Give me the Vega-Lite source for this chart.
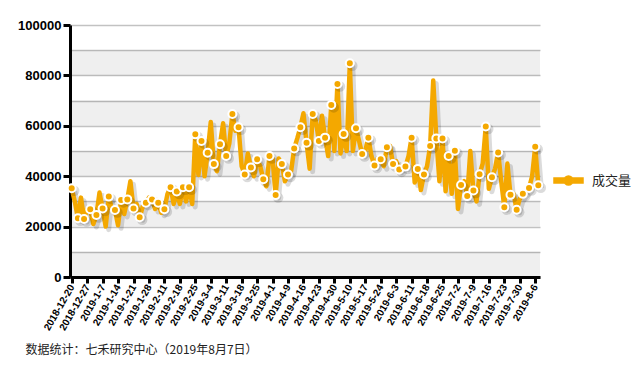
{
"$schema": "https://vega.github.io/schema/vega-lite/v6.json",
"width": 470, "height": 252,
"autosize": "none",
"padding": {"left": 70, "top": 25, "right": 99, "bottom": 90},
"background": "white",
"config": {"view": {"stroke": null}, "font": "Liberation Sans",
 "axisX": {"tickCount": 31,
    "labelExpr": "['2018-12-20','2018-12-27','2019-1-7','2019-1-14','2019-1-21','2019-1-28','2019-2-11','2019-2-18','2019-2-25','2019-3-4','2019-3-11','2019-3-18','2019-3-25','2019-4-1','2019-4-9','2019-4-16','2019-4-23','2019-4-30','2019-5-10','2019-5-17','2019-5-24','2019-6-3','2019-6-11','2019-6-18','2019-6-25','2019-7-2','2019-7-9','2019-7-16','2019-7-23','2019-7-30','2019-8-6'][round(datum.value/5)]",
    "labelAngle": -60, "labelAlign": "right", "labelBaseline": "middle", "labelFont": "Liberation Sans", "labelFontSize": 10, "labelFontWeight": "bold", "labelColor": "black",
    "labelOverlap": false, "labelBound": false, "labelFlush": false, "labelPadding": 2,
    "grid": false, "domainColor": "black", "domainWidth": 3, "tickColor": "black", "tickWidth": 3, "tickSize": 6, "title": null}},
"title": {"text": "数据统计：七禾研究中心（2019年8月7日）", "orient": "bottom", "anchor": "start", "frame": "bounds", "font": "Noto Sans CJK SC", "fontSize": 12, "fontWeight": "normal", "color": "#222222", "offset": 13, "dx": 8},
"datasets": {
"bands": [{"lo":0,"hi":10000},{"lo":20000,"hi":30000},{"lo":40000,"hi":50000},{"lo":60000,"hi":70000},{"lo":80000,"hi":90000}],
"vol": [
{"i":0,"d":"2018-12-20","v":35200},{"i":1,"d":"2018-12-21","v":30000},{"i":2,"d":"2018-12-24","v":23300},{"i":3,"d":"2018-12-25","v":31500},{"i":4,"d":"2018-12-26","v":23000},{"i":5,"d":"2018-12-27","v":27000},{"i":6,"d":"2018-12-28","v":26900},{"i":7,"d":"2019-1-2","v":21000},{"i":8,"d":"2019-1-3","v":24600},{"i":9,"d":"2019-1-4","v":33500},
{"i":10,"d":"2019-1-7","v":27200},{"i":11,"d":"2019-1-8","v":20000},{"i":12,"d":"2019-1-9","v":31900},{"i":13,"d":"2019-1-10","v":27000},{"i":14,"d":"2019-1-11","v":26600},{"i":15,"d":"2019-1-14","v":20500},{"i":16,"d":"2019-1-15","v":30600},{"i":17,"d":"2019-1-16","v":25000},{"i":18,"d":"2019-1-17","v":30800},{"i":19,"d":"2019-1-18","v":38000},
{"i":20,"d":"2019-1-21","v":27200},{"i":21,"d":"2019-1-22","v":29000},{"i":22,"d":"2019-1-23","v":23700},{"i":23,"d":"2019-1-24","v":28000},{"i":24,"d":"2019-1-25","v":29500},{"i":25,"d":"2019-1-28","v":31500},{"i":26,"d":"2019-1-29","v":30800},{"i":27,"d":"2019-1-30","v":27000},{"i":28,"d":"2019-1-31","v":29500},{"i":29,"d":"2019-2-1","v":25500},
{"i":30,"d":"2019-2-11","v":26900},{"i":31,"d":"2019-2-12","v":33000},{"i":32,"d":"2019-2-13","v":35600},{"i":33,"d":"2019-2-14","v":29000},{"i":34,"d":"2019-2-15","v":33900},{"i":35,"d":"2019-2-18","v":29000},{"i":36,"d":"2019-2-19","v":35600},{"i":37,"d":"2019-2-20","v":30000},{"i":38,"d":"2019-2-21","v":35600},{"i":39,"d":"2019-2-22","v":29000},
{"i":40,"d":"2019-2-25","v":56600},{"i":41,"d":"2019-2-26","v":40500},{"i":42,"d":"2019-2-27","v":54000},{"i":43,"d":"2019-2-28","v":40000},{"i":44,"d":"2019-3-1","v":49300},{"i":45,"d":"2019-3-4","v":61500},{"i":46,"d":"2019-3-5","v":44800},{"i":47,"d":"2019-3-6","v":42000},{"i":48,"d":"2019-3-7","v":52700},{"i":49,"d":"2019-3-8","v":61000},
{"i":50,"d":"2019-3-11","v":48000},{"i":51,"d":"2019-3-12","v":53000},{"i":52,"d":"2019-3-13","v":64700},{"i":53,"d":"2019-3-14","v":58000},{"i":54,"d":"2019-3-15","v":59400},{"i":55,"d":"2019-3-18","v":44000},{"i":56,"d":"2019-3-19","v":40700},{"i":57,"d":"2019-3-20","v":49000},{"i":58,"d":"2019-3-21","v":43500},{"i":59,"d":"2019-3-22","v":40000},
{"i":60,"d":"2019-3-25","v":46700},{"i":61,"d":"2019-3-26","v":44000},{"i":62,"d":"2019-3-27","v":38800},{"i":63,"d":"2019-3-28","v":36000},{"i":64,"d":"2019-3-29","v":48000},{"i":65,"d":"2019-4-1","v":47000},{"i":66,"d":"2019-4-2","v":32500},{"i":67,"d":"2019-4-3","v":47000},{"i":68,"d":"2019-4-4","v":44800},{"i":69,"d":"2019-4-8","v":38000},
{"i":70,"d":"2019-4-9","v":40700},{"i":71,"d":"2019-4-10","v":42000},{"i":72,"d":"2019-4-11","v":51000},{"i":73,"d":"2019-4-12","v":55000},{"i":74,"d":"2019-4-15","v":59400},{"i":75,"d":"2019-4-16","v":65000},{"i":76,"d":"2019-4-17","v":53300},{"i":77,"d":"2019-4-18","v":43000},{"i":78,"d":"2019-4-19","v":64700},{"i":79,"d":"2019-4-22","v":62000},
{"i":80,"d":"2019-4-23","v":54000},{"i":81,"d":"2019-4-24","v":64000},{"i":82,"d":"2019-4-25","v":55300},{"i":83,"d":"2019-4-26","v":48000},{"i":84,"d":"2019-4-29","v":68300},{"i":85,"d":"2019-4-30","v":50000},{"i":86,"d":"2019-5-6","v":76600},{"i":87,"d":"2019-5-7","v":49000},{"i":88,"d":"2019-5-8","v":56700},{"i":89,"d":"2019-5-9","v":50000},
{"i":90,"d":"2019-5-10","v":84800},{"i":91,"d":"2019-5-13","v":50000},{"i":92,"d":"2019-5-14","v":59000},{"i":93,"d":"2019-5-15","v":54000},{"i":94,"d":"2019-5-16","v":48800},{"i":95,"d":"2019-5-17","v":50000},{"i":96,"d":"2019-5-20","v":55300},{"i":97,"d":"2019-5-21","v":48000},{"i":98,"d":"2019-5-22","v":44200},{"i":99,"d":"2019-5-23","v":47000},
{"i":100,"d":"2019-5-24","v":46700},{"i":101,"d":"2019-5-27","v":44000},{"i":102,"d":"2019-5-28","v":51500},{"i":103,"d":"2019-5-29","v":52000},{"i":104,"d":"2019-5-30","v":44800},{"i":105,"d":"2019-6-3","v":46000},{"i":106,"d":"2019-6-4","v":42700},{"i":107,"d":"2019-6-5","v":44000},{"i":108,"d":"2019-6-6","v":43800},{"i":109,"d":"2019-6-10","v":48000},
{"i":110,"d":"2019-6-11","v":55300},{"i":111,"d":"2019-6-12","v":37500},{"i":112,"d":"2019-6-13","v":42900},{"i":113,"d":"2019-6-14","v":34500},{"i":114,"d":"2019-6-17","v":40700},{"i":115,"d":"2019-6-18","v":44000},{"i":116,"d":"2019-6-19","v":52000},{"i":117,"d":"2019-6-20","v":78000},{"i":118,"d":"2019-6-21","v":55000},{"i":119,"d":"2019-6-24","v":38000},
{"i":120,"d":"2019-6-25","v":55000},{"i":121,"d":"2019-6-26","v":34000},{"i":122,"d":"2019-6-27","v":48000},{"i":123,"d":"2019-6-28","v":33000},{"i":124,"d":"2019-7-1","v":50100},{"i":125,"d":"2019-7-2","v":27000},{"i":126,"d":"2019-7-3","v":36500},{"i":127,"d":"2019-7-4","v":38000},{"i":128,"d":"2019-7-5","v":32100},{"i":129,"d":"2019-7-8","v":50000},
{"i":130,"d":"2019-7-9","v":34300},{"i":131,"d":"2019-7-10","v":30000},{"i":132,"d":"2019-7-11","v":40800},{"i":133,"d":"2019-7-12","v":45000},{"i":134,"d":"2019-7-15","v":59700},{"i":135,"d":"2019-7-16","v":35000},{"i":136,"d":"2019-7-17","v":39600},{"i":137,"d":"2019-7-18","v":43000},{"i":138,"d":"2019-7-19","v":49400},{"i":139,"d":"2019-7-22","v":38000},
{"i":140,"d":"2019-7-23","v":27700},{"i":141,"d":"2019-7-24","v":45000},{"i":142,"d":"2019-7-25","v":32600},{"i":143,"d":"2019-7-26","v":33000},{"i":144,"d":"2019-7-29","v":26700},{"i":145,"d":"2019-7-30","v":31000},{"i":146,"d":"2019-7-31","v":33000},{"i":147,"d":"2019-8-1","v":34000},{"i":148,"d":"2019-8-2","v":35300},{"i":149,"d":"2019-8-5","v":40000},
{"i":150,"d":"2019-8-6","v":51700},{"i":151,"d":"2019-8-7","v":36400}
]},
"layer": [
{"data": {"name": "bands"},
 "mark": {"type": "rect", "fill": "black", "opacity": 0.063},
 "encoding": {
  "y": {"field": "lo", "type": "quantitative", "title": null, "scale": {"domain": [0, 100000], "nice": false},
   "axis": {"values": [0,10000,20000,30000,40000,50000,60000,70000,80000,90000,100000], "tickCount": 20,
    "labelExpr": "datum.value % 20000 === 0 ? '' + datum.value : ''",
    "tickOpacity": {"condition": {"test": "datum.value % 20000 === 0", "value": 1}, "value": 0},
    "domainColor": "black", "domainWidth": 3, "tickColor": "black", "tickWidth": 3, "tickSize": 7,
    "labelFont": "Liberation Sans", "labelFontWeight": "bold", "labelFontSize": 13, "labelColor": "black", "labelPadding": 2,
    "grid": true, "gridColor": "#c2c2c2", "gridWidth": 1.3}},
  "y2": {"field": "hi"}
 }},
{"data": {"name": "vol"},
 "mark": {"type": "line", "stroke": "black", "opacity": 0.14, "strokeWidth": 5, "strokeJoin": "round", "xOffset": 3, "yOffset": 3},
 "encoding": {
  "x": {"field": "i", "type": "quantitative", "title": null,
   "scale": {"domain": [-0.55, 151.55], "nice": false, "zero": false}},
  "y": {"field": "v", "type": "quantitative", "title": null}
 }},
{"data": {"name": "vol"},
 "mark": {"type": "line", "strokeWidth": 4.5, "strokeJoin": "round"},
 "encoding": {
  "x": {"field": "i", "type": "quantitative", "title": null},
  "y": {"field": "v", "type": "quantitative", "title": null},
  "color": {"datum": "成交量", "scale": {"range": ["#f4a800"]},
   "legend": {"orient": "none", "legendX": 483, "legendY": 140, "title": null,
    "labelFont": "Noto Sans CJK SC", "labelFontSize": 13, "labelColor": "#222222", "labelOffset": 8,
    "symbolSize": 841,
    "symbolType": "M-1,-0.17H-0.32V0.17H-1Z M0.32,-0.17H1V0.17H0.32Z M0.31,0A0.31,0.31,0,1,1,-0.31,0A0.31,0.31,0,1,1,0.31,0Z",
    "encode": {"symbols": {"update": {"fill": {"value": "#f4a800"}, "stroke": {"value": "white"}, "strokeWidth": {"value": 1.5}, "opacity": {"value": 1}}}}}}
 }},
{"data": {"name": "vol"},
 "transform": [{"filter": "datum.i % 2 === 0 || datum.i === 151"}],
 "mark": {"type": "circle", "fill": "black", "opacity": 0.14, "size": 110, "xOffset": 2.5, "yOffset": 2.5},
 "encoding": {
  "x": {"field": "i", "type": "quantitative", "title": null},
  "y": {"field": "v", "type": "quantitative", "title": null}
 }},
{"data": {"name": "vol"},
 "transform": [{"filter": "datum.i % 2 === 0 || datum.i === 151"}],
 "mark": {"type": "point", "filled": true, "size": 64, "stroke": "white", "strokeWidth": 2, "opacity": 1},
 "encoding": {
  "x": {"field": "i", "type": "quantitative", "title": null},
  "y": {"field": "v", "type": "quantitative", "title": null},
  "color": {"datum": "成交量"}
 }}
]
}
